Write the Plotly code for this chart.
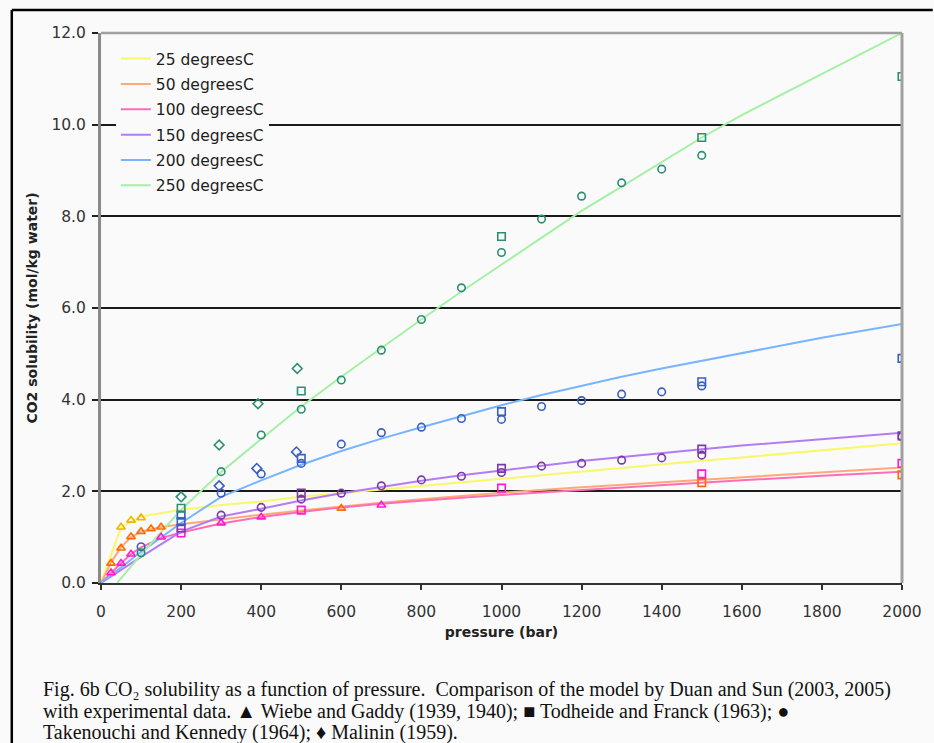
import plotly.graph_objects as go

# ---------------- model curves (Duan and Sun) ----------------
p_25 = [0, 50, 100, 200, 300, 400, 500, 600, 700, 800, 900, 1000, 1200, 1400, 1500, 1600, 1800, 2000]
s_25 = [0, 1.22, 1.45, 1.60, 1.70, 1.78, 1.88, 1.96, 2.04, 2.12, 2.20, 2.28, 2.44, 2.60, 2.67, 2.74, 2.90, 3.05]

p_50 = [0, 25, 50, 75, 100, 150, 200, 300, 400, 500, 600, 700, 800, 900, 1000, 1200, 1400, 1500, 1600, 1800, 2000]
s_50 = [0, 0.45, 0.78, 1.00, 1.12, 1.22, 1.28, 1.39, 1.49, 1.58, 1.67, 1.75, 1.83, 1.90, 1.97, 2.09, 2.20, 2.25, 2.30, 2.41, 2.52]

p_100 = [0, 25, 50, 75, 100, 150, 200, 300, 400, 500, 600, 700, 800, 900, 1000, 1200, 1400, 1500, 1600, 1800, 2000]
s_100 = [0, 0.22, 0.43, 0.63, 0.78, 0.98, 1.10, 1.30, 1.44, 1.55, 1.65, 1.73, 1.80, 1.86, 1.92, 2.03, 2.14, 2.19, 2.24, 2.34, 2.43]

p_150 = [0, 100, 200, 300, 400, 500, 600, 700, 800, 900, 1000, 1100, 1200, 1300, 1400, 1500, 1600, 1800, 2000]
s_150 = [0, 0.57, 1.12, 1.45, 1.62, 1.80, 1.96, 2.10, 2.23, 2.35, 2.46, 2.56, 2.66, 2.75, 2.84, 2.92, 3.00, 3.14, 3.28]

p_200 = [0, 100, 200, 300, 400, 500, 600, 700, 800, 900, 1000, 1100, 1200, 1300, 1400, 1500, 1600, 1800, 2000]
s_200 = [0, 0.68, 1.31, 1.88, 2.24, 2.58, 2.88, 3.15, 3.40, 3.64, 3.88, 4.10, 4.30, 4.50, 4.68, 4.85, 5.02, 5.35, 5.65]

p_250 = [40, 100, 200, 300, 400, 500, 600, 700, 800, 900, 1000, 1100, 1200, 1300, 1400, 1500, 1600, 1800, 2000]
s_250 = [0, 0.62, 1.60, 2.42, 3.14, 3.85, 4.50, 5.13, 5.75, 6.36, 6.95, 7.54, 8.12, 8.65, 9.18, 9.72, 10.21, 11.10, 12.00]

# ---------------- experimental data ----------------
# Wiebe and Gaddy (triangles)
wg25_p = [50, 75, 100]
wg25_s = [1.22, 1.37, 1.42]
wg50_p = [25, 50, 75, 100, 125, 150, 600]
wg50_s = [0.43, 0.76, 1.01, 1.12, 1.18, 1.22, 1.63]
wg100_p = [25, 50, 75, 150, 300, 400, 700]
wg100_s = [0.22, 0.43, 0.63, 1.00, 1.31, 1.44, 1.70]
# Todheide and Franck (squares)
td50_p = [1500, 2000]
td50_s = [2.19, 2.36]
td100_p = [200, 500, 1000, 1500, 2000]
td100_s = [1.09, 1.59, 2.07, 2.38, 2.61]
td150_p = [200, 500, 1000, 1500, 2000]
td150_s = [1.20, 1.96, 2.50, 2.92, 3.21]
td200_p = [200, 200, 500, 1000, 1500, 2000]
td200_s = [1.34, 1.48, 2.72, 3.74, 4.39, 4.90]
td250_p = [200, 500, 1000, 1500, 2000]
td250_s = [1.63, 4.19, 7.56, 9.72, 11.05]
# Takenouchi and Kennedy (circles)
tk150_p = [300, 400, 500, 600, 700, 800, 900, 1000, 1100, 1200, 1300, 1400, 1500, 2000]
tk150_s = [1.48, 1.65, 1.83, 1.96, 2.12, 2.25, 2.33, 2.41, 2.55, 2.61, 2.68, 2.73, 2.79, 3.19]
tk200_p = [100, 300, 400, 500, 600, 700, 800, 900, 1000, 1100, 1200, 1300, 1400, 1500]
tk200_s = [0.79, 1.96, 2.38, 2.61, 3.03, 3.28, 3.40, 3.59, 3.57, 3.85, 3.98, 4.12, 4.17, 4.30]
tk250_p = [100, 300, 400, 500, 600, 700, 800, 900, 1000, 1100, 1200, 1300, 1400, 1500]
tk250_s = [0.66, 2.43, 3.23, 3.79, 4.43, 5.08, 5.75, 6.44, 7.21, 7.94, 8.44, 8.73, 9.03, 9.33]
# Malinin (diamonds)
ml200_p = [295, 389, 488]
ml200_s = [2.12, 2.50, 2.86]
ml250_p = [200, 295, 392, 490]
ml250_s = [1.88, 3.01, 3.91, 4.68]

legend_names = ["25 degreesC", "50 degreesC", "100 degreesC", "150 degreesC", "200 degreesC", "250 degreesC"]
x_ticks = [0, 200, 400, 600, 800, 1000, 1200, 1400, 1600, 1800, 2000]
y_ticks = [0, 2, 4, 6, 8, 10, 12]

line_colors = ["#f8f86a", "#ffa878", "#ff6eb4", "#b47cf4", "#78b4ff", "#a4f0a4"]
mark_colors = ["#f0b400", "#ff6a00", "#ff1ad0", "#7a3aa8", "#3a5fc0", "#2e8e74"]

BG = "#fafafa"
FONT = "DejaVu Sans"

fig = go.Figure()

curves = [(p_25, s_25), (p_50, s_50), (p_100, s_100), (p_150, s_150), (p_200, s_200), (p_250, s_250)]
for i, (px, sy) in enumerate(curves):
    fig.add_trace(go.Scatter(x=px, y=sy, mode="lines", name=legend_names[i],
                             legendgroup="g%d" % i,
                             line=dict(color=line_colors[i], width=2)))

def add_markers(px, sy, ci, symbol):
    fig.add_trace(go.Scatter(x=px, y=sy, mode="markers", showlegend=False,
                             marker=dict(symbol=symbol, size=7.5, color=mark_colors[ci],
                                         line=dict(color=mark_colors[ci], width=1.6))))

add_markers(wg25_p, wg25_s, 0, "triangle-up-open")
add_markers(wg50_p, wg50_s, 1, "triangle-up-open")
add_markers(wg100_p, wg100_s, 2, "triangle-up-open")
add_markers(td50_p, td50_s, 1, "square-open")
add_markers(td100_p, td100_s, 2, "square-open")
add_markers(td150_p, td150_s, 3, "square-open")
add_markers(td200_p, td200_s, 4, "square-open")
add_markers(td250_p, td250_s, 5, "square-open")
add_markers(tk150_p, tk150_s, 3, "circle-open")
add_markers(tk200_p, tk200_s, 4, "circle-open")
add_markers(tk250_p, tk250_s, 5, "circle-open")
add_markers(ml200_p, ml200_s, 4, "diamond-open")
add_markers(ml250_p, ml250_s, 5, "diamond-open")

# plot area: x 101..909 px, y 33..583 px
L, R, T, B = 101, 909, 33, 583
W, H = 934, 743
def paper_x(px):
    return (px - L) / (R - L)
def paper_y(py):
    return (B - py) / (B - T)

fig.update_layout(
    width=W, height=H,
    margin=dict(l=L, r=W - R, t=T, b=H - B, pad=0),
    paper_bgcolor=BG, plot_bgcolor=BG,
    font=dict(family=FONT, size=15, color="#222222"),
    showlegend=True,
    legend=dict(x=paper_x(116), y=paper_y(42), xanchor="left", yanchor="top",
                bgcolor=BG, borderwidth=0, tracegroupgap=2.2,
                font=dict(family=FONT, size=15.5, color="#1e1e1e")),
    xaxis=dict(range=[0, 2000], tickvals=x_ticks, ticktext=[str(v) for v in x_ticks],
               showgrid=False, zeroline=False, showline=True, linecolor="#333333", linewidth=2,
               ticks="outside", ticklen=5, tickwidth=1.5, tickcolor="#333333", ticklabelstandoff=8,
               tickfont=dict(family=FONT, size=15.5, color="#333333"),
               title=dict(text="<b>pressure (bar)</b>", font=dict(family=FONT, size=14, color="#222222"), standoff=8)),
    yaxis=dict(range=[0, 12], tickvals=y_ticks, ticktext=["%.1f" % v for v in y_ticks],
               showgrid=True, gridcolor="#1a1a1a", gridwidth=2,
               zeroline=False, showline=True, linecolor="#8a8a8a", linewidth=3,
               ticks="outside", ticklen=6, tickwidth=1.5, tickcolor="#222222", ticklabelstandoff=3,
               tickfont=dict(family=FONT, size=15.5, color="#333333"),
               title=dict(text="<b>CO2 solubility (mol/kg water)</b>", font=dict(family=FONT, size=14, color="#222222"), standoff=11)),
)

# plot border (top and right gray) and outer figure frame
fig.add_shape(type="line", xref="paper", yref="paper", x0=0, x1=1, y0=1, y1=1,
              line=dict(color="#a0a0a0", width=2.5), layer="above")
fig.add_shape(type="line", xref="paper", yref="paper", x0=1, x1=1, y0=0, y1=1,
              line=dict(color="#a0a0a0", width=3), layer="above")
fig.add_shape(type="line", xref="paper", yref="paper", x0=paper_x(11), x1=paper_x(940),
              y0=paper_y(10), y1=paper_y(10), line=dict(color="#000000", width=2.5))
fig.add_shape(type="line", xref="paper", yref="paper", x0=paper_x(11), x1=paper_x(11),
              y0=paper_y(10), y1=paper_y(750), line=dict(color="#000000", width=2.5))

caption = [
    "Fig. 6b CO\u2082 solubility as a function of pressure.  Comparison of the model by Duan and Sun (2003, 2005)",
    "with experimental data. \u25B2 Wiebe and Gaddy (1939, 1940); \u25A0 Todheide and Franck (1963); \u25CF",
    "Takenouchi and Kennedy (1964); \u2666 Malinin (1959).",
]
cap_y = [689.5, 711, 732]
for txt, yy in zip(caption, cap_y):
    fig.add_annotation(text=txt, xref="paper", yref="paper", x=paper_x(40), y=paper_y(yy),
                       xanchor="left", yanchor="middle", showarrow=False,
                       font=dict(family="Liberation Serif", size=20, color="#111111"))

fig.write_html("out.html")
